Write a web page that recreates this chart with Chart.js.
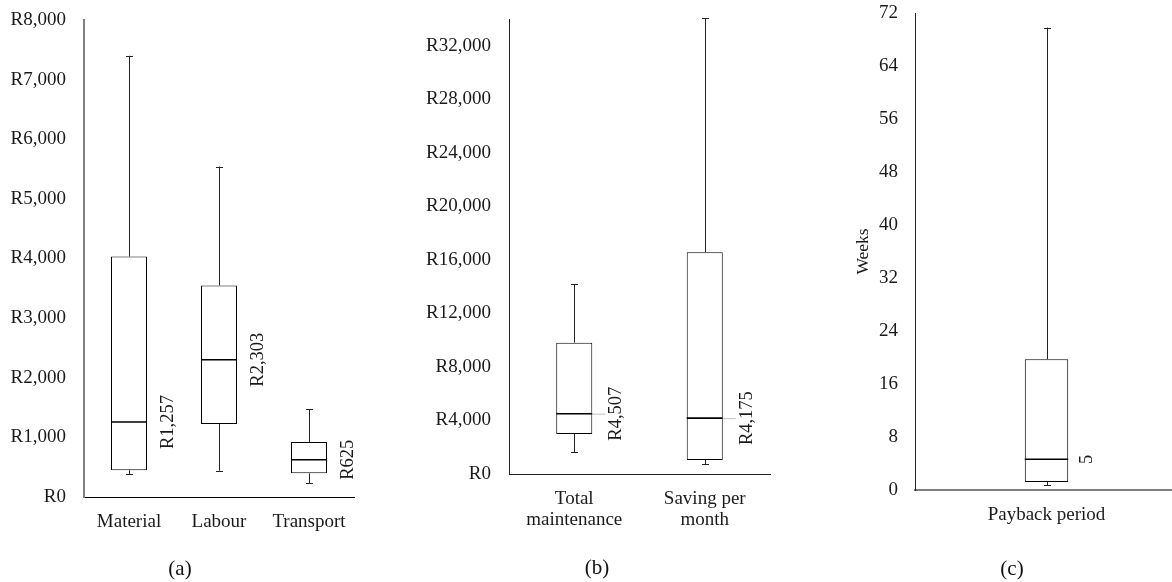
<!DOCTYPE html>
<html><head><meta charset="utf-8">
<script src="https://cdn.jsdelivr.net/npm/chart.js@4.4.1/dist/chart.umd.min.js"></script>
<style>
html,body{margin:0;padding:0;background:#fff;overflow:hidden;width:1172px;height:582px;position:relative;}
canvas{position:absolute;left:0;top:0;}
.cap{position:absolute;font-family:"Liberation Serif",serif;font-size:21px;color:#111;transform:translate(-50%,-50%);white-space:nowrap;}
</style></head><body>
<canvas id="ca" width="1172" height="582"></canvas>
<canvas id="cb" width="1172" height="582"></canvas>
<canvas id="cc" width="1200" height="582"></canvas>
<div class="cap" style="left:180px;top:568px">(a)</div>
<div class="cap" style="left:597px;top:567px">(b)</div>
<div class="cap" style="left:1012px;top:568px">(c)</div>
<script>
// ---- Panel (a): cost components ----
const costCategories = ['Material', 'Labour', 'Transport'];
const costMin    = [386, 441, 230];
const costQ1     = [448, 1225, 397];
const costMedian = [1257, 2303, 625];
const costQ3     = [4032, 3548, 923];
const costMax    = [7400, 5542, 1471];
const costMedianLabels = ['R1,257', 'R2,303', 'R625'];
const costAxisMax = 8000, costAxisStep = 1000;

// ---- Panel (b): maintenance vs saving ----
const maintCategories = [['Total', 'maintenance'], ['Saving per', 'month']];
const maintMin    = [1645, 725];
const maintQ1     = [2991, 1047];
const maintMedian = [4507, 4175];
const maintQ3     = [9817, 16575];
const maintMax    = [14168, 34071];
const maintMedianLabels = ['R4,507', 'R4,175'];
const maintAxisMax = 34000, maintAxisStep = 4000;

// ---- Panel (c): payback period ----
const paybackCategories = ['Payback period'];
const paybackMin    = [0.75];
const paybackQ1     = [1.2];
const paybackMedian = [4.64];
const paybackQ3     = [19.74];
const paybackMax    = [69.8];
const paybackMedianLabels = ['5'];
const paybackAxisMax = 72, paybackAxisStep = 8;
const paybackAxisTitle = 'Weeks';

const FONT = 'Liberation Serif';
const TXT = '#1a1a1a';

const boxPlugin = {
  id: 'boxWhiskers',
  afterDatasetsDraw(chart, args, o) {
    const ctx = chart.ctx, y = chart.scales.y;
    const meta = chart.getDatasetMeta(0);
    const gap = o.gap;
    ctx.save();
    meta.data.forEach((bar, i) => {
      const p = bar.getProps(['x', 'width'], true);
      const cx = Math.round(p.x) + 0.5, half = p.width / 2;
      const yMin = y.getPixelForValue(o.min[i]);
      const yQ1 = y.getPixelForValue(o.q1[i]);
      const yQ3 = y.getPixelForValue(o.q3[i]);
      const yMax = y.getPixelForValue(o.max[i]);
      const yMed = y.getPixelForValue(o.median[i]);
      ctx.strokeStyle = '#222';
      ctx.lineWidth = 1;
      ctx.beginPath();
      ctx.moveTo(cx, yQ3); ctx.lineTo(cx, yMax);
      ctx.moveTo(cx, yQ1); ctx.lineTo(cx, yMin);
      ctx.moveTo(cx - 3.5, Math.round(yMax) + 0.5); ctx.lineTo(cx + 3.5, Math.round(yMax) + 0.5);
      ctx.moveTo(cx - 3.5, Math.round(yMin) + 0.5); ctx.lineTo(cx + 3.5, Math.round(yMin) + 0.5);
      ctx.stroke();
      ctx.strokeStyle = '#000';
      ctx.lineWidth = 1.6;
      ctx.beginPath();
      ctx.moveTo(p.x - half, yMed); ctx.lineTo(p.x + half, yMed);
      ctx.stroke();
      if (o.leader) {
        ctx.strokeStyle = '#c0c0c0';
        ctx.lineWidth = 1;
        ctx.beginPath();
        ctx.moveTo(p.x + half, yMed + 0.5); ctx.lineTo(p.x + half + gap - 2, yMed + 0.5);
        ctx.stroke();
      }
      ctx.save();
      ctx.translate(p.x + half + gap, yMed);
      ctx.rotate(-Math.PI / 2);
      ctx.textAlign = 'center';
      ctx.textBaseline = 'top';
      ctx.fillStyle = TXT;
      ctx.font = '18.5px "' + FONT + '"';
      ctx.fillText(o.labels[i], 0, 0);
      ctx.restore();
    });
    ctx.restore();
  }
};

function makeBox(id, c) {
  const floating = c.q1.map((v, i) => [v, c.q3[i]]);
  return new Chart(document.getElementById(id), {
    type: 'bar',
    data: {
      labels: c.labels,
      datasets: [{
        data: floating,
        backgroundColor: '#ffffff',
        borderColor: '#000000',
        borderWidth: 1,
        borderSkipped: false,
        barPercentage: c.barPct,
        categoryPercentage: 1
      }]
    },
    options: {
      responsive: false,
      animation: false,
      events: [],
      layout: { padding: c.pad },
      plugins: {
        legend: { display: false },
        tooltip: { enabled: false },
        boxWhiskers: {
          min: c.min, q1: c.q1, q3: c.q3, max: c.max, median: c.median,
          labels: c.medianLabels, leader: !!c.leader, gap: c.gap
        }
      },
      scales: {
        x: {
          offset: true,
          grid: { display: false, drawTicks: false },
          border: { display: true, color: c.xBorder, width: c.xBorderW },
          ticks: { color: TXT, padding: 15, maxRotation: 0, autoSkip: false,
                   font: { family: FONT, size: 19, lineHeight: 1.1 } },
          afterFit(s) { s.height = 60; s.paddingLeft = 0; s.paddingRight = 0; }
        },
        y: {
          min: 0, max: c.yMax,
          grid: { display: false, drawTicks: false },
          border: { display: true, color: c.yBorder, width: c.yBorderW },
          ticks: { color: TXT, padding: c.tickPad, autoSkip: false,
                   font: { family: FONT, size: 19, lineHeight: 1.1 },
                   callback: c.fmt },
          afterBuildTicks(s) {
            const t = [];
            for (let v = 0; v <= c.yMax + 1e-9; v += c.yStep) t.push({ value: v });
            s.ticks = t;
          },
          title: c.yTitle ? { display: true, text: c.yTitle, color: TXT,
                   font: { family: FONT, size: 17.5, lineHeight: 1.2 }, padding: { top: 18, bottom: 0 } } : { display: false },
          afterFit(s) { s.width = c.yWidth; s.paddingTop = 0; s.paddingBottom = 0; }
        }
      }
    },
    plugins: [boxPlugin]
  });
}

const rand = v => 'R' + Number(v).toLocaleString('en-US');

makeBox('ca', {
  labels: costCategories, min: costMin, q1: costQ1, median: costMedian, q3: costQ3, max: costMax,
  medianLabels: costMedianLabels, yMax: costAxisMax, yStep: costAxisStep, fmt: rand,
  barPct: 0.4, yWidth: 80, tickPad: 18, gap: 12,
  pad: { left: 4, right: 818, top: 20, bottom: 25 },
  yBorder: '#808080', yBorderW: 2, xBorder: '#000', xBorderW: 1
});
makeBox('cb', {
  labels: maintCategories, min: maintMin, q1: maintQ1, median: maintMedian, q3: maintQ3, max: maintMax,
  medianLabels: maintMedianLabels, yMax: maintAxisMax, yStep: maintAxisStep, fmt: rand,
  barPct: 0.276, yWidth: 90, tickPad: 18, leader: true, gap: 15,
  pad: { left: 419, right: 402, top: 19, bottom: 48 },
  yBorder: '#222', yBorderW: 1, xBorder: '#222', xBorderW: 1
});
makeBox('cc', {
  labels: paybackCategories, min: paybackMin, q1: paybackQ1, median: paybackMedian, q3: paybackQ3, max: paybackMax,
  medianLabels: paybackMedianLabels, yMax: paybackAxisMax, yStep: paybackAxisStep, fmt: v => String(v),
  barPct: 0.165, yWidth: 80, tickPad: 17, yTitle: paybackAxisTitle, gap: 10,
  pad: { left: 835, right: 22, top: 13, bottom: 32 },
  yBorder: '#222', yBorderW: 1, xBorder: '#808080', xBorderW: 2
});
</script>
</body></html>
